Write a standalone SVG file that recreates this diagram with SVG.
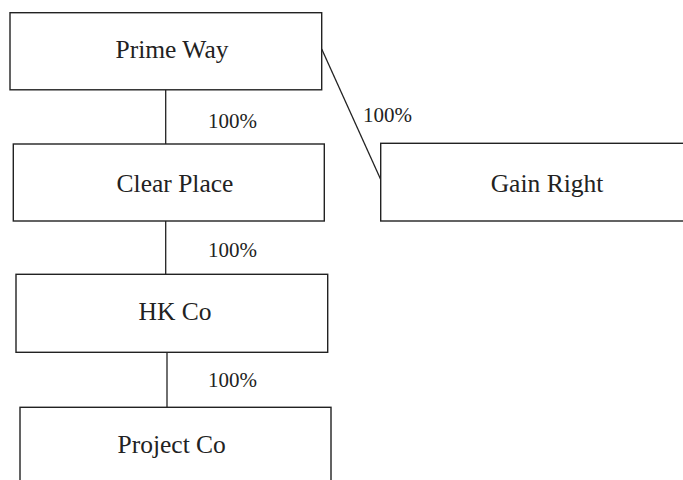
<svg xmlns="http://www.w3.org/2000/svg" width="683" height="480" viewBox="0 0 683 480">
<style>
.b{fill:#fff;stroke:#222;stroke-width:1.4}
line{stroke:#222;stroke-width:1.3}
.n{font-family:"Liberation Serif",serif;font-size:25.5px;fill:#222;text-anchor:middle}
.l{font-family:"Liberation Serif",serif;font-size:21px;fill:#222}
</style>
<rect width="683" height="480" fill="#fff"/>
<g id="connectors">
<line x1="165.7" y1="89.8" x2="165.7" y2="144"/>
<line x1="321.7" y1="49" x2="380.7" y2="179.5"/>
<line x1="165.7" y1="221" x2="165.7" y2="274.3"/>
<line x1="167" y1="352.3" x2="167" y2="407.3"/>
<text class="l" x="208" y="128">100%</text>
<text class="l" x="363" y="122">100%</text>
<text class="l" x="208" y="256.7">100%</text>
<text class="l" x="208" y="386.7">100%</text>
</g>
<g id="prime-way">
<rect class="b" x="10" y="12.7" width="311.7" height="77.1"/>
<text class="n" x="172" y="58">Prime Way</text>
</g>
<g id="clear-place">
<rect class="b" x="13.3" y="144" width="311" height="77"/>
<text class="n" x="175" y="191.7">Clear Place</text>
</g>
<g id="gain-right">
<rect class="b" x="380.7" y="143.3" width="310" height="77.7"/>
<text class="n" x="547" y="191.7">Gain Right</text>
</g>
<g id="hk-co">
<rect class="b" x="16" y="274.3" width="311.7" height="78"/>
<text class="n" x="175" y="320">HK Co</text>
</g>
<g id="project-co">
<rect class="b" x="20" y="407.3" width="311" height="80"/>
<text class="n" x="171.7" y="453">Project Co</text>
</g>
</svg>
